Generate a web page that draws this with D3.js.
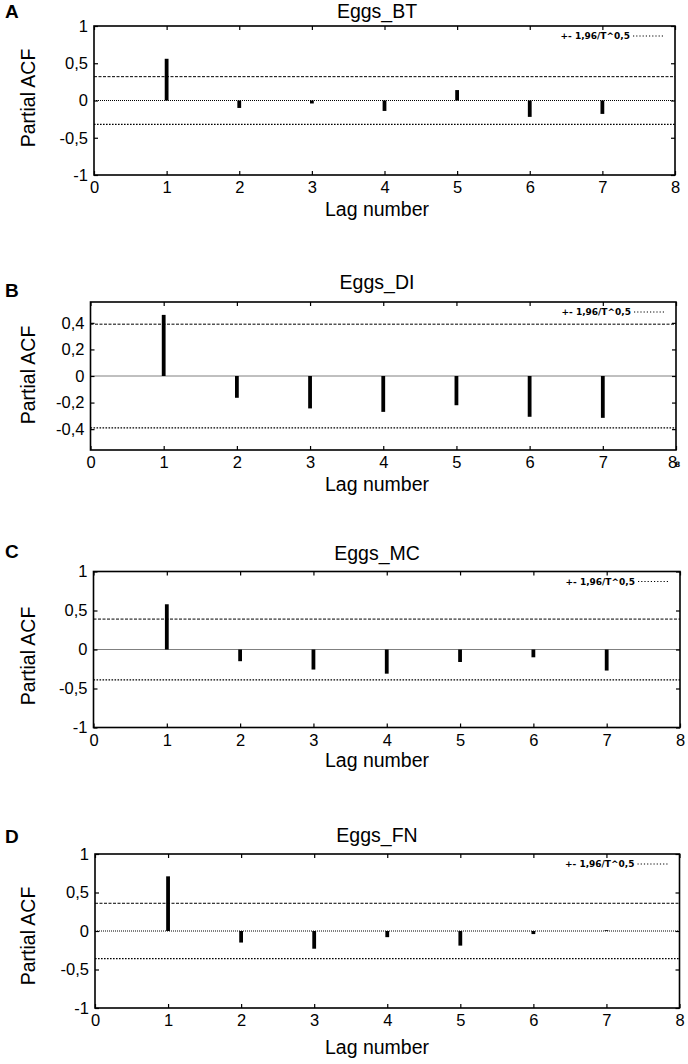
<!DOCTYPE html>
<html><head><meta charset="utf-8">
<script src="https://cdn.jsdelivr.net/npm/d3@7/dist/d3.min.js"></script>
<style>body{margin:0;background:#fff}svg{display:block}</style>
</head><body>
<svg id="c" width="688" height="1064"></svg>
<script>
// ---- data ----
const lags = [1, 2, 3, 4, 5, 6, 7];
const pacfBT = [0.56, -0.10, -0.04, -0.14, 0.14, -0.22, -0.18];
const pacfDI = [0.46, -0.164, -0.244, -0.27, -0.22, -0.307, -0.315];
const pacfMC = [0.58, -0.15, -0.257, -0.31, -0.16, -0.10, -0.27];
const pacfFN = [0.71, -0.15, -0.23, -0.08, -0.19, -0.04, 0.01];
const confBounds = [0.32, 0.39, 0.39, 0.36];
const titles = ["Eggs_BT", "Eggs_DI", "Eggs_MC", "Eggs_FN"];
const letters = ["A", "B", "C", "D"];
const xTickValues = [0, 1, 2, 3, 4, 5, 6, 7, 8];
const yTicksStd = [-1, -0.5, 0, 0.5, 1];
const yTicksB = [-0.4, -0.2, 0, 0.2, 0.4];
const legendLabel = "+- 1,96/T^0,5";
const series = [pacfBT, pacfDI, pacfMC, pacfFN];

// ---- layout ----
const layouts = [
  {l: 94, t: 26, r: 675, b: 175, yd: [-1, 1], yt: yTicksStd, letterY: 18, titleY: 18, labY: 98, xlabY: 215.5},
  {l: 90.5, t: 302, r: 676, b: 450, yd: [-0.557, 0.557], yt: yTicksB, letterY: 297, titleY: 289, labY: 375, xlabY: 491},
  {l: 93.5, t: 571.5, r: 680, b: 727.5, yd: [-1, 1], yt: yTicksStd, letterY: 558, titleY: 560, labY: 656, xlabY: 767},
  {l: 95, t: 854, r: 679.5, b: 1008, yd: [-1, 1], yt: yTicksStd, letterY: 843, titleY: 842, labY: 936, xlabY: 1054}
];

const loc = d3.formatLocale({decimal: ",", thousands: ".", grouping: [3], currency: ["", ""], minus: "-"});
const fmt = loc.format("~g");
const FONT = "Liberation Sans, Arial, sans-serif";
const svg = d3.select("#c");

layouts.forEach((L, i) => {
  const g = svg.append("g");
  const x = d3.scaleLinear().domain([0, 8]).range([L.l, L.r]);
  const y = d3.scaleLinear().domain(L.yd).range([L.b, L.t]);

  // reference lines
  g.append("line").attr("x1", L.l).attr("x2", L.r).attr("y1", y(0)).attr("y2", y(0))
    .attr("stroke", "#000").attr("stroke-width", 1).attr("stroke-dasharray", "1,1");
  g.append("line").attr("x1", L.l).attr("x2", L.r).attr("y1", y(confBounds[i])).attr("y2", y(confBounds[i]))
    .attr("stroke", "#000").attr("stroke-width", 1).attr("stroke-dasharray", "3,1.5");
  g.append("line").attr("x1", L.l).attr("x2", L.r).attr("y1", y(-confBounds[i])).attr("y2", y(-confBounds[i]))
    .attr("stroke", "#000").attr("stroke-width", 1.3).attr("stroke-dasharray", "1.6,1.4");

  // bars
  g.selectAll(".bar").data(lags.map((lag, k) => ({lag, v: series[i][k]}))).enter()
    .append("line")
    .attr("x1", d => x(d.lag)).attr("x2", d => x(d.lag))
    .attr("y1", y(0)).attr("y2", d => y(d.v))
    .attr("stroke", "#000").attr("stroke-width", 3.8);

  // axes (ticks inward)
  const axB = d3.axisBottom(x).tickValues(xTickValues).tickSizeInner(-4).tickSizeOuter(0).tickPadding(6.5).tickFormat(fmt);
  const gb = g.append("g").attr("transform", `translate(0,${L.b})`).call(axB);
  const axT = d3.axisTop(x).tickValues(xTickValues).tickSizeInner(-4).tickSizeOuter(0).tickFormat("");
  g.append("g").attr("transform", `translate(0,${L.t})`).call(axT);
  const axL = d3.axisLeft(y).tickValues(L.yt).tickSizeInner(-4).tickSizeOuter(0).tickPadding(6).tickFormat(fmt);
  g.append("g").attr("transform", `translate(${L.l},0)`).call(axL);
  const axR = d3.axisRight(y).tickValues(L.yt).tickSizeInner(-4).tickSizeOuter(0).tickFormat("");
  g.append("g").attr("transform", `translate(${L.r},0)`).call(axR);
  g.selectAll(".domain").remove();
  g.selectAll(".tick line").attr("stroke", "#000").attr("stroke-width", 1.2);
  g.selectAll(".tick text").attr("font-family", FONT).attr("font-size", 16.5).attr("fill", "#000");
  gb.selectAll(".tick text").attr("dy", "0.71em");

  // frame
  g.append("rect").attr("x", L.l).attr("y", L.t).attr("width", L.r - L.l).attr("height", L.b - L.t)
    .attr("fill", "none").attr("stroke", "#000").attr("stroke-width", 1.6);

  // legend
  g.append("text").attr("x", L.r - 45).attr("y", L.t + 10).attr("dy", "0.35em")
    .attr("text-anchor", "end").attr("font-family", "DejaVu Sans, sans-serif")
    .attr("font-weight", "bold").attr("font-size", 9).text(legendLabel);
  g.append("line").attr("x1", L.r - 42).attr("x2", L.r - 12).attr("y1", L.t + 10).attr("y2", L.t + 10)
    .attr("stroke", "#000").attr("stroke-width", 1).attr("stroke-dasharray", "1.2,2");

  // labels
  g.append("text").attr("x", 377).attr("y", L.titleY).attr("text-anchor", "middle")
    .attr("font-family", FONT).attr("font-size", 19.5).text(titles[i]);
  g.append("text").attr("x", 5).attr("y", L.letterY)
    .attr("font-family", FONT).attr("font-weight", "bold").attr("font-size", 19).text(letters[i]);
  g.append("text").attr("x", 377).attr("y", L.xlabY).attr("text-anchor", "middle")
    .attr("font-family", FONT).attr("font-size", 19.5).text("Lag number");
  g.append("text").attr("transform", `translate(35,${L.labY}) rotate(-90)`).attr("text-anchor", "middle")
    .attr("font-family", FONT).attr("font-size", 19.5).text("Partial ACF");

  if (i === 1) {
    gb.selectAll(".tick text").filter(d => d === 8).attr("dx", -4);
    g.append("text").attr("x", L.r - 1).attr("y", L.b + 17).attr("font-family", "DejaVu Sans, sans-serif")
      .attr("font-weight", "bold").attr("font-size", 7.5).text("8");
  }
});
</script>
</body></html>
